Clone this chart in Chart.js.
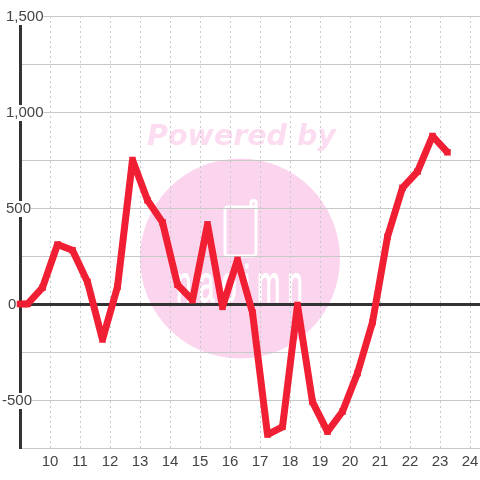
<!DOCTYPE html>
<html>
<head>
<meta charset="utf-8">
<style>
  html, body { margin: 0; padding: 0; background: #fff; }
  canvas { display: block; }
</style>
<script src="https://cdn.jsdelivr.net/npm/chart.js@4/dist/chart.umd.min.js"></script>
</head>
<body>
<canvas id="chart" width="480" height="480"></canvas>
<script>
const hours = [9, 9.25, 9.75, 10.25, 10.75, 11.25, 11.75, 12.25, 12.75, 13.25, 13.75, 14.25, 14.75, 15.25, 15.75, 16.25,
  16.75, 17.25, 17.75, 18.25, 18.75, 19.25, 19.75, 20.25, 20.75, 21.25, 21.75, 22.25, 22.75, 23.25];
const values = [0, 0, 85, 310, 280, 115, -185, 90, 750, 540, 425, 100, 20, 415, -15, 230,
  -45, -680, -640, -5, -510, -665, -560, -360, -95, 350, 605, 690, 875, 790];
const yLabels = { "1500": "1,500", "1000": "1,000", "500": "500", "0": "0", "-500": "-500" };
const yLabelNudge = { "0": 2, "-500": -4 };
const watermarkTitle = "Powered by";
const watermarkLogo = "naoimn";

// the line's overflow would otherwise stop the plot area 4px short of the right edge
Chart.registry.getController("line").prototype.getMaxOverflow = () => 0;

// pink logo sits under the grid
const watermark = {
  id: "watermark",
  beforeDraw(chart) {
    const ctx = chart.ctx;
    ctx.save();
    ctx.fillStyle = "#fbd5ee";
    ctx.beginPath();
    ctx.arc(240, 258.5, 100, 0, Math.PI * 2);
    ctx.fill();

    ctx.strokeStyle = "#fff";
    ctx.lineWidth = 3;
    ctx.beginPath();
    ctx.roundRect(225, 207, 31, 49, 3);
    ctx.moveTo(251, 207);
    ctx.lineTo(251, 203);
    ctx.arc(253.5, 203, 2.5, Math.PI, 0);
    ctx.lineTo(256, 210);
    ctx.stroke();

    ctx.fillStyle = "#fff";
    ctx.font = "28px 'Liberation Sans'";
    ctx.letterSpacing = "7px";
    ctx.textAlign = "center";
    ctx.textBaseline = "alphabetic";
    ctx.save();
    ctx.translate(243, 302);
    ctx.scale(1, 1.85);
    ctx.lineWidth = 0.5;
    ctx.fillText(watermarkLogo, 0, 0);
    ctx.strokeText(watermarkLogo, 0, 0);
    ctx.restore();

    ctx.letterSpacing = "0px";
    ctx.fillStyle = "#fcdcf0";
    ctx.font = "italic bold 28.5px 'DejaVu Sans'";
    ctx.fillText(watermarkTitle, 241.5, 145);
    ctx.restore();
  },
};

// tick labels of the y axis are not all on one left edge
const labelNudge = {
  id: "labelNudge",
  beforeDraw(chart) {
    const scale = chart.scales.y;
    scale.getLabelItems().forEach((item) => {
      if (item.nudged) return;
      item.nudged = true;
      item.options.translation = [
        item.options.translation[0] + (yLabelNudge[item.label] || 0),
        item.options.translation[1] + 1,
      ];
    });
  },
};

new Chart("chart", {
  type: "line",
  plugins: [watermark, labelNudge],
  data: {
    datasets: [
      {
        data: hours.map((h, i) => ({ x: h, y: values[i] })),
        borderColor: "#f01f33",
        backgroundColor: "#f01f33",
        borderWidth: 7,
        borderJoinStyle: "bevel",
        tension: 0,
        fill: false,
        clip: false,
        pointStyle: "rect",
        pointRadius: 4.6,
        pointBorderWidth: 0,
      },
    ],
  },
  options: {
    responsive: false,
    animation: false,
    layout: { padding: { left: 20, top: 16 } },
    plugins: { legend: { display: false }, tooltip: { enabled: false } },
    scales: {
      x: {
        type: "linear",
        min: 9,
        max: 24.3333,
        afterFit: (s) => {
          s.height = 32;
          s.paddingLeft = 0;
          s.paddingRight = 0;
        },
        border: { display: false, dash: [2, 3] },
        grid: { color: "#c8c8c8", lineWidth: 1, drawTicks: false },
        ticks: {
          stepSize: 1,
          includeBounds: false,
          autoSkip: false,
          maxRotation: 0,
          padding: 5,
          color: "#444",
          font: { family: "Liberation Sans", size: 15 },
          callback: (v) => (v === 9 ? "" : String(v)),
        },
      },
      y: {
        min: -750,
        max: 1500,
        afterFit: (s) => { s.width = 0; },
        border: { display: true, color: "#333", width: 3 },
        grid: {
          drawTicks: false,
          color: (c) => (c.tick.value === 0 ? "#333" : "#c8c8c8"),
          lineWidth: (c) => (c.tick.value === 0 ? 3 : 1),
        },
        ticks: {
          stepSize: 250,
          autoSkip: false,
          mirror: true,
          padding: -14,
          color: "#444",
          font: { family: "Liberation Sans", size: 15, lineHeight: 1.07 },
          showLabelBackdrop: true,
          backdropColor: "#fff",
          backdropPadding: 0,
          callback: (v) => yLabels[v] || "",
        },
      },
    },
  },
});
</script>
</body>
</html>
